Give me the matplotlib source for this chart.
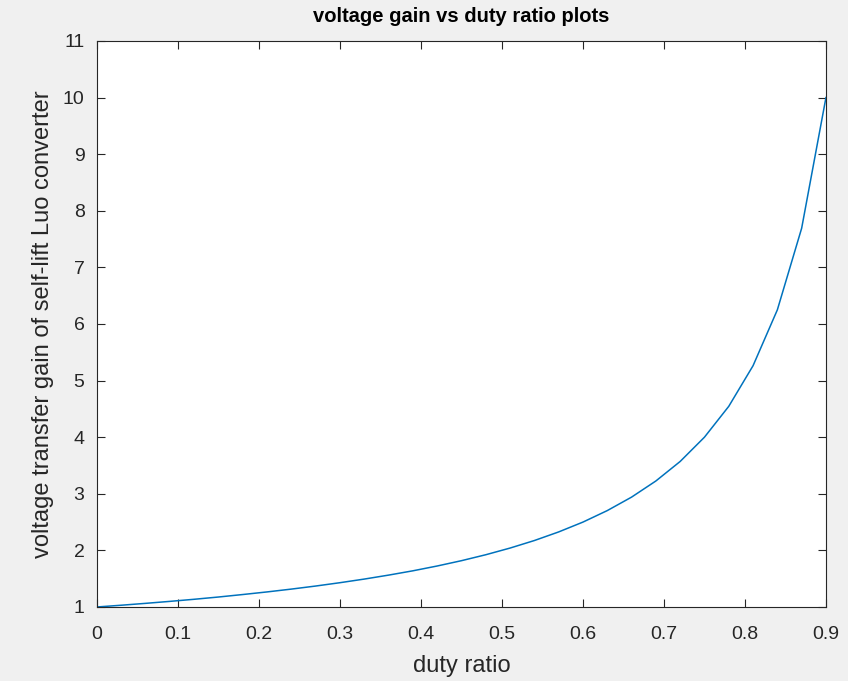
import matplotlib
matplotlib.use('Agg')
import matplotlib.pyplot as plt

# duty ratio samples and gain
duty = [0.00, 0.03, 0.06, 0.09, 0.12, 0.15, 0.18, 0.21, 0.24, 0.27, 0.30,
        0.33, 0.36, 0.39, 0.42, 0.45, 0.48, 0.51, 0.54, 0.57, 0.60,
        0.63, 0.66, 0.69, 0.72, 0.75, 0.78, 0.81, 0.84, 0.87, 0.90]
gain = [1.000, 1.031, 1.064, 1.099, 1.136, 1.176, 1.220, 1.266, 1.316, 1.370, 1.429,
        1.493, 1.563, 1.639, 1.724, 1.818, 1.923, 2.041, 2.174, 2.326, 2.500,
        2.703, 2.941, 3.226, 3.571, 4.000, 4.545, 5.263, 6.250, 7.692, 10.000]
xticks = [0, 0.1, 0.2, 0.3, 0.4, 0.5, 0.6, 0.7, 0.8, 0.9]
xticklabels = ['0', '0.1', '0.2', '0.3', '0.4', '0.5', '0.6', '0.7', '0.8', '0.9']
yticks = list(range(1, 12))

plt.rcParams['font.family'] = ['Liberation Sans', 'DejaVu Sans']
grey = '#262626'

fig = plt.figure(figsize=(8.48, 6.81), dpi=100, facecolor='#f0f0f0')
ax = fig.add_axes([0.1144, 0.1087, 0.974 - 0.1144, 0.9398 - 0.1087])
ax.plot(duty, gain, color='#0072BD', lw=1.1)
ax.set_xlim(0, 0.9)
ax.set_ylim(1, 11)
ax.set_xticks(xticks)
ax.set_xticklabels(xticklabels)
ax.set_yticks(yticks)
ax.tick_params(direction='in', length=6, width=0.8, colors=grey, labelsize=14,
               top=True, right=True, pad=9)
ax.tick_params(axis='x', pad=14)
for s in ax.spines.values():
    s.set_color(grey)
    s.set_linewidth(0.8)
ax.set_xlabel('duty ratio', fontsize=17, color=grey, labelpad=8)
ax.set_ylabel('voltage transfer gain of self-lift Luo converter', fontsize=17, color=grey, labelpad=6)
ax.set_title('voltage gain vs duty ratio plots', fontsize=14.5, fontweight='bold', color='black', pad=14)
fig.savefig('out.png', dpi=100, facecolor=fig.get_facecolor())
